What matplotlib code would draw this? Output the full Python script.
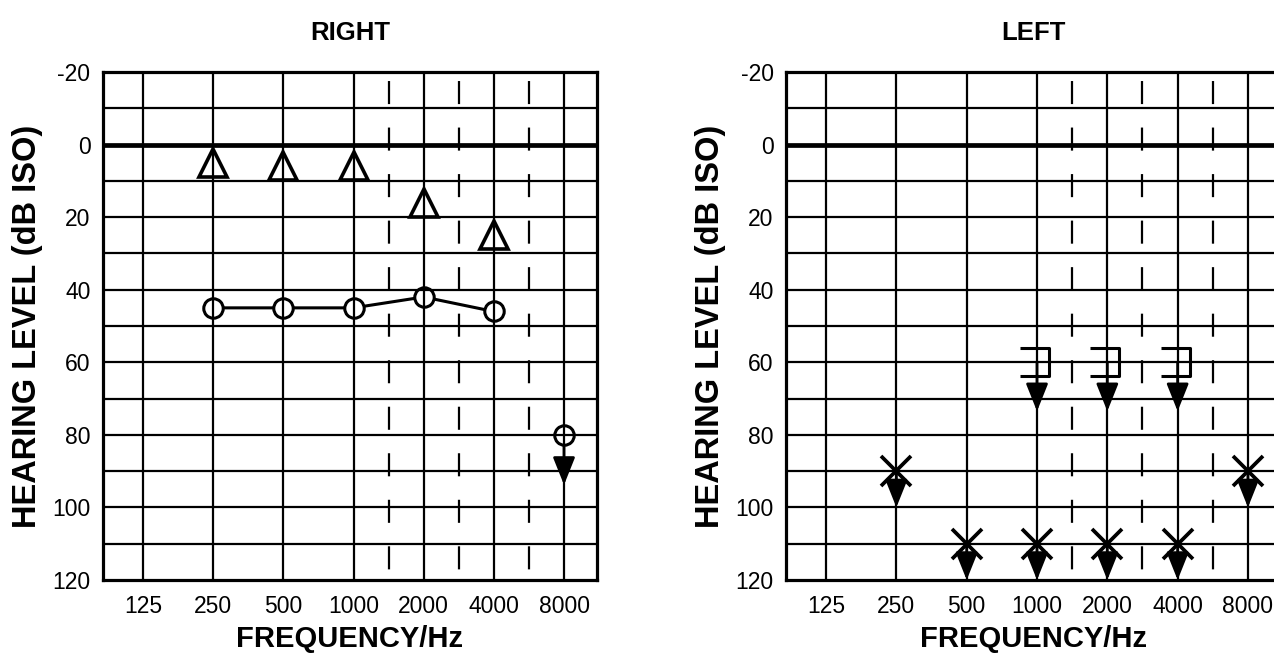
import numpy as np
import matplotlib
matplotlib.use('Agg')
import matplotlib.pyplot as plt
from matplotlib.path import Path

plt.rcParams['font.family'] = ['Liberation Sans', 'DejaVu Sans']
plt.rcParams['lines.scale_dashes'] = False

# audiogram frequencies and levels
freqs = [125, 250, 500, 1000, 2000, 4000, 8000]
freq_labels = ['125', '250', '500', '1000', '2000', '4000', '8000']
db_ticks = [-20, 0, 20, 40, 60, 80, 100, 120]

# RIGHT ear
right_tri_freq = [250, 500, 1000, 2000, 4000]
right_tri_db = [5, 6, 6, 16, 25]
right_circ_freq = [250, 500, 1000, 2000, 4000]
right_circ_db = [45, 45, 45, 42, 46]
right_nr_circ_freq = [8000]
right_nr_circ_db = [80]

# LEFT ear (all no response)
left_x_freq = [250, 500, 1000, 2000, 4000, 8000]
left_x_db = [90, 110, 110, 110, 110, 90]
left_bracket_freq = [1000, 2000, 4000]
left_bracket_db = [60, 60, 60]

# "]" symbol as a marker, sitting slightly right of the frequency line
bracket = Path([(-17, -14), (12, -14), (12, 14), (-17, 14)],
               [Path.MOVETO, Path.LINETO, Path.LINETO, Path.LINETO])

ARROW = dict(arrowstyle='-|>,head_length=0.85,head_width=0.34', color='black',
             lw=2.0, mutation_scale=20, shrinkA=0, shrinkB=0)


def down_arrow(ax, f, start, length):
    ax.annotate('', xy=(f, start + length), xytext=(f, start),
                arrowprops=ARROW, zorder=5)


def audiogram_frame(ax, title):
    ax.set_xscale('log', base=2)
    ax.set_xlim(125 * 2 ** -0.57, 8000 * 2 ** 0.47)
    ax.set_ylim(120, -20)

    # horizontal grid every 10 dB, 0 dB heavy
    for y in range(-10, 120, 10):
        ax.axhline(y, color='black', lw=3.4 if y == 0 else 1.6, zorder=3)
    for f in freqs:
        ax.axvline(f, color='black', lw=1.6, zorder=3)
    # inter-octave dashed lines
    for a, b in zip(freqs[3:-1], freqs[4:]):
        ax.plot([np.sqrt(a * b)] * 2, [-20, 120], color='black', lw=1.6,
                linestyle=(27, (16.6, 16.9)), zorder=3)

    ax.set_xticks(freqs)
    ax.set_xticklabels(freq_labels)
    ax.minorticks_off()
    ax.set_yticks(db_ticks)
    ax.set_yticklabels([str(v) for v in db_ticks])
    ax.tick_params(length=0, labelsize=16.5)
    ax.tick_params(axis='x', pad=11)
    ax.tick_params(axis='y', pad=9)
    for s in ax.spines.values():
        s.set_linewidth(2.3)
        s.set_zorder(4)
    ax.set_title(title, fontsize=18.5, fontweight='bold', pad=23)
    ax.set_xlabel('FREQUENCY/Hz', fontsize=21, fontweight='bold', labelpad=5)
    ax.set_ylabel('HEARING LEVEL (dB ISO)', fontsize=23.5, fontweight='bold', labelpad=7)


fig = plt.figure(figsize=(12.74, 6.53), dpi=100)
ax_r = fig.add_axes([103 / 1274, 73 / 653, 494 / 1274, 508 / 653])
ax_l = fig.add_axes([786 / 1274, 73 / 653, 495 / 1274, 508 / 653])

audiogram_frame(ax_r, 'RIGHT')
audiogram_frame(ax_l, 'LEFT')

# RIGHT ear symbols
ax_r.plot(right_tri_freq, right_tri_db, linestyle='none', marker='^', ms=20,
          mfc='white', mec='black', mew=2.6, zorder=2.5)
ax_r.plot(right_circ_freq, right_circ_db, color='black', lw=2.2, zorder=2)
ax_r.plot(right_circ_freq + right_nr_circ_freq, right_circ_db + right_nr_circ_db,
          linestyle='none', marker='o', ms=14, mfc='white', mec='black',
          mew=2.2, zorder=2.5)
for f, d in zip(right_nr_circ_freq, right_nr_circ_db):
    down_arrow(ax_r, f, d + 2.8, 11)

# LEFT ear symbols
for f, d in zip(left_x_freq, left_x_db):
    down_arrow(ax_l, f, d, 10)
ax_l.plot(left_x_freq, left_x_db, linestyle='none', marker='x', ms=21,
          mec='black', mew=2.7, zorder=6)
for f, d in zip(left_bracket_freq, left_bracket_db):
    down_arrow(ax_l, f, d, 13.5)
ax_l.plot(left_bracket_freq, left_bracket_db, linestyle='none', marker=bracket,
          ms=24.5, mfc='none', mec='black', mew=2.2, zorder=6)

fig.savefig('out.png', dpi=100)
